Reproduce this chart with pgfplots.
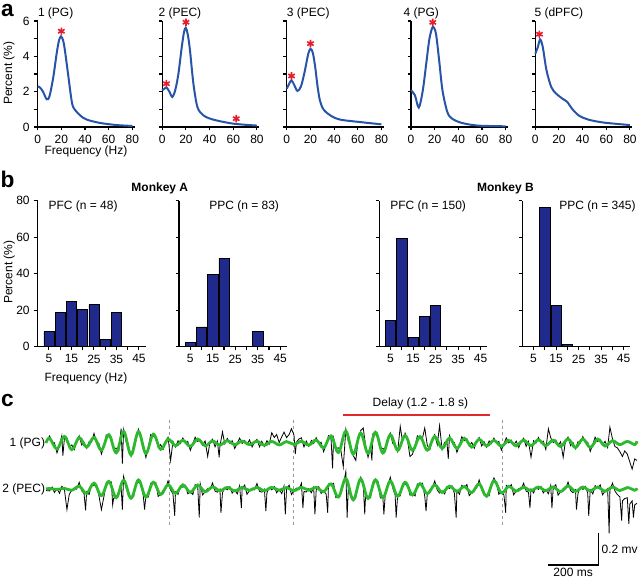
\documentclass[border=0pt]{standalone}
\usepackage{fontspec}
\setmainfont{Liberation Sans}
\usepackage{pgfplots}
\pgfplotsset{compat=1.18}
\usepackage{pgfplotstable}
\definecolor{curveblue}{RGB}{40,84,168}
\definecolor{barblue}{RGB}{32,42,140}
\definecolor{starred}{RGB}{228,30,45}
\definecolor{tracegreen}{RGB}{45,185,45}
\definecolor{delayred}{RGB}{225,40,45}

% panel c: time (ms), voltage (microvolt), each trace relative to its own baseline
\pgfplotstableread[row sep=\\]{t v\\ 0 0\\ 14 30\\ 43 -37\\ 72 42\\ 101 -42\\ 130 34\\ 159 -26\\ 188 35\\ 217 -45\\ 246 53\\ 275 -62\\ 304 73\\ 333 -75\\ 362 72\\ 391 -66\\ 420 56\\ 449 -40\\ 478 24\\ 507 -17\\ 536 17\\ 565 -21\\ 594 25\\ 623 -17\\ 652 12\\ 681 -12\\ 710 14\\ 739 -10\\ 768 12\\ 797 -10\\ 826 11\\ 855 -14\\ 884 10\\ 913 -12\\ 942 9\\ 971 -9\\ 1000 11\\ 1029 -13\\ 1058 19\\ 1087 -30\\ 1116 45\\ 1145 -60\\ 1174 75\\ 1203 -70\\ 1232 63\\ 1261 -65\\ 1290 68\\ 1319 -63\\ 1348 52\\ 1377 -46\\ 1406 47\\ 1435 -46\\ 1464 41\\ 1493 -45\\ 1522 41\\ 1551 -34\\ 1580 32\\ 1609 -34\\ 1638 30\\ 1667 -26\\ 1696 23\\ 1725 -18\\ 1754 16\\ 1783 -20\\ 1812 16\\ 1841 -18\\ 1870 18\\ 1899 -16\\ 1928 20\\ 1957 -16\\ 1986 18\\ 2015 -22\\ 2044 26\\ 2073 -29\\ 2102 26\\ 2131 -28\\ 2160 25\\ 2189 -19\\ 2218 14\\ 2247 -10\\ 2276 10\\ 2305 -10\\ 2314 12\\}\greenA

\pgfplotstableread[row sep=\\]{t v\\ 0 0\\ 14 3\\ 43 -3\\ 72 4\\ 101 -8\\ 130 17\\ 159 -28\\ 188 37\\ 217 -42\\ 246 48\\ 275 -55\\ 304 55\\ 333 -59\\ 362 57\\ 391 -51\\ 420 43\\ 449 -35\\ 478 27\\ 507 -28\\ 536 26\\ 565 -21\\ 594 25\\ 623 -17\\ 652 13\\ 681 -11\\ 710 10\\ 739 -12\\ 768 10\\ 797 -9\\ 826 10\\ 855 -11\\ 884 10\\ 913 -8\\ 942 9\\ 971 -11\\ 1000 11\\ 1029 -8\\ 1058 10\\ 1087 -17\\ 1116 32\\ 1145 -51\\ 1174 66\\ 1203 -69\\ 1232 63\\ 1261 -60\\ 1290 58\\ 1319 -55\\ 1348 50\\ 1377 -46\\ 1406 42\\ 1435 -38\\ 1464 34\\ 1493 -30\\ 1522 26\\ 1551 -22\\ 1580 18\\ 1609 -15\\ 1638 15\\ 1667 -23\\ 1696 32\\ 1725 -46\\ 1754 52\\ 1783 -25\\ 1812 16\\ 1841 -13\\ 1870 11\\ 1899 -10\\ 1928 12\\ 1957 -10\\ 1986 13\\ 2015 -17\\ 2044 19\\ 2073 -15\\ 2102 12\\ 2131 -11\\ 2160 12\\ 2189 -14\\ 2218 12\\ 2247 -10\\ 2276 9\\ 2305 -8\\ 2314 5\\}\greenB

\pgfplotstableread[row sep=\\]{t v\\ 0 0\\ 14 45\\ 24 5\\ 33 2\\ 43 -62\\ 53 -13\\ 62 46\\ 66 -80\\ 72 27\\ 82 31\\ 91 -26\\ 101 -12\\ 111 -41\\ 120 17\\ 130 46\\ 140 -13\\ 149 5\\ 159 -34\\ 169 9\\ 178 5\\ 188 60\\ 198 7\\ 207 -2\\ 217 -70\\ 227 -17\\ 236 51\\ 246 38\\ 256 36\\ 265 -36\\ 275 -32\\ 285 -51\\ 294 90\\ 299 -130\\ 304 85\\ 314 6\\ 323 -19\\ 333 -83\\ 343 -15\\ 352 24\\ 362 87\\ 372 26\\ 381 -13\\ 391 -91\\ 401 -28\\ 410 53\\ 420 41\\ 430 38\\ 439 -25\\ 449 -10\\ 459 -40\\ 468 12\\ 478 36\\ 488 -110\\ 497 10\\ 507 -25\\ 517 14\\ 526 -4\\ 536 32\\ 546 -2\\ 555 10\\ 565 -46\\ 575 -5\\ 584 37\\ 594 10\\ 604 22\\ 613 -13\\ 623 13\\ 633 -85\\ 642 6\\ 652 24\\ 662 -24\\ 671 12\\ 678 -90\\ 681 -20\\ 691 70\\ 700 -5\\ 710 29\\ 720 -3\\ 729 15\\ 739 -35\\ 749 0\\ 758 31\\ 768 -3\\ 778 16\\ 787 -10\\ 797 20\\ 807 -25\\ 816 5\\ 826 23\\ 836 -25\\ 845 11\\ 855 -22\\ 865 15\\ 874 -7\\ 884 65\\ 894 35\\ 903 54\\ 913 3\\ 923 39\\ 932 69\\ 942 34\\ 952 54\\ 961 90\\ 971 51\\ 976 -70\\ 981 6\\ 990 25\\ 1000 33\\ 1010 -25\\ 1019 12\\ 1029 -21\\ 1039 16\\ 1048 -3\\ 1058 34\\ 1068 -1\\ 1077 5\\ 1087 -55\\ 1097 -10\\ 1106 47\\ 1116 30\\ 1122 -160\\ 1126 32\\ 1135 -35\\ 1145 -30\\ 1155 -50\\ 1164 -150\\ 1174 87\\ 1184 7\\ 1193 -17\\ 1203 -78\\ 1213 -110\\ 1222 19\\ 1232 78\\ 1242 95\\ 1251 -12\\ 1261 -90\\ 1271 -27\\ 1276 -110\\ 1280 59\\ 1290 53\\ 1300 44\\ 1309 -36\\ 1319 -33\\ 1329 -51\\ 1338 26\\ 1348 64\\ 1358 -4\\ 1367 -5\\ 1377 -54\\ 1387 105\\ 1396 11\\ 1406 62\\ 1416 13\\ 1425 -85\\ 1435 -71\\ 1445 -18\\ 1454 45\\ 1464 26\\ 1474 30\\ 1483 95\\ 1493 -15\\ 1503 -42\\ 1512 20\\ 1522 53\\ 1532 -10\\ 1541 110\\ 1551 -42\\ 1561 5\\ 1570 4\\ 1575 -100\\ 1580 47\\ 1590 6\\ 1599 3\\ 1609 -59\\ 1619 -12\\ 1628 40\\ 1638 15\\ 1648 25\\ 1657 -18\\ 1667 4\\ 1677 -33\\ 1686 11\\ 1696 35\\ 1706 -19\\ 1715 9\\ 1725 -26\\ 1735 13\\ 1744 -4\\ 1754 31\\ 1764 -2\\ 1773 10\\ 1783 -45\\ 1793 -5\\ 1802 33\\ 1812 1\\ 1822 18\\ 1831 -14\\ 1841 12\\ 1851 -29\\ 1860 9\\ 1870 30\\ 1880 -21\\ 1889 10\\ 1899 -90\\ 1909 14\\ 1918 -2\\ 1928 35\\ 1938 0\\ 1947 12\\ 1957 -41\\ 1967 90\\ 1976 34\\ 1986 3\\ 1996 19\\ 2005 -16\\ 2015 8\\ 2025 -90\\ 2034 13\\ 2044 38\\ 2054 -17\\ 2063 4\\ 2073 -37\\ 2083 8\\ 2092 1\\ 2102 41\\ 2112 3\\ 2121 6\\ 2131 -53\\ 2141 -9\\ 2150 37\\ 2160 10\\ 2170 22\\ 2179 -14\\ 2189 11\\ 2199 -29\\ 2208 100\\ 2218 26\\ 2228 -23\\ 2237 -30\\ 2247 -55\\ 2257 -85\\ 2266 -50\\ 2276 -70\\ 2286 -120\\ 2295 -165\\ 2305 -100\\ 2314 -110\\}\blackA

\pgfplotstableread[row sep=\\]{t v\\ 0 -10\\ 14 -12\\ 24 12\\ 33 -22\\ 43 2\\ 53 -27\\ 62 17\\ 72 -1\\ 82 -130\\ 91 -34\\ 101 -8\\ 111 6\\ 120 -1\\ 130 42\\ 140 -11\\ 149 -29\\ 155 -135\\ 159 -18\\ 169 -34\\ 178 24\\ 188 22\\ 198 29\\ 207 -41\\ 217 -130\\ 227 -46\\ 236 39\\ 246 43\\ 256 44\\ 261 -100\\ 265 -57\\ 275 -55\\ 285 -17\\ 294 17\\ 299 -130\\ 304 80\\ 314 7\\ 323 -44\\ 333 -49\\ 343 -49\\ 352 33\\ 362 42\\ 372 38\\ 381 -45\\ 386 -130\\ 391 -46\\ 401 -50\\ 410 36\\ 420 38\\ 430 41\\ 439 -47\\ 449 -35\\ 459 -7\\ 468 3\\ 478 52\\ 488 -7\\ 497 -29\\ 504 -170\\ 507 -18\\ 517 -34\\ 526 18\\ 536 11\\ 546 23\\ 555 -30\\ 565 -16\\ 575 -35\\ 584 27\\ 594 20\\ 600 -180\\ 604 32\\ 613 -38\\ 623 -17\\ 633 2\\ 642 -4\\ 652 38\\ 662 -14\\ 671 -20\\ 681 -1\\ 685 -150\\ 691 -25\\ 700 10\\ 710 -5\\ 720 15\\ 729 -26\\ 739 -7\\ 749 -31\\ 758 20\\ 765 -120\\ 768 5\\ 778 25\\ 787 -34\\ 797 -9\\ 807 6\\ 816 -5\\ 826 35\\ 836 -15\\ 845 -20\\ 855 -1\\ 861 -140\\ 865 -25\\ 874 10\\ 884 -5\\ 894 15\\ 903 -24\\ 913 -3\\ 923 -29\\ 932 19\\ 937 -160\\ 942 4\\ 952 24\\ 961 -35\\ 971 -11\\ 981 5\\ 990 -5\\ 1000 36\\ 1006 -120\\ 1010 -15\\ 1019 -19\\ 1029 2\\ 1039 -24\\ 1048 10\\ 1053 -160\\ 1058 -5\\ 1068 15\\ 1077 -28\\ 1087 -12\\ 1097 -33\\ 1103 -150\\ 1106 31\\ 1116 27\\ 1126 36\\ 1135 -55\\ 1145 -51\\ 1155 -15\\ 1164 23\\ 1174 110\\ 1179 -180\\ 1184 13\\ 1193 -49\\ 1203 -59\\ 1213 -54\\ 1222 36\\ 1232 75\\ 1242 41\\ 1248 -160\\ 1251 -50\\ 1261 -55\\ 1271 -55\\ 1280 44\\ 1290 53\\ 1300 49\\ 1309 -57\\ 1319 -55\\ 1323 -160\\ 1329 -17\\ 1338 15\\ 1348 75\\ 1358 5\\ 1367 -38\\ 1371 -180\\ 1377 -36\\ 1387 -43\\ 1396 26\\ 1406 27\\ 1416 31\\ 1425 -39\\ 1435 -33\\ 1445 -44\\ 1454 32\\ 1464 29\\ 1474 37\\ 1483 -45\\ 1488 -140\\ 1493 -30\\ 1503 -5\\ 1512 3\\ 1522 51\\ 1532 -7\\ 1541 -26\\ 1551 -12\\ 1561 -31\\ 1570 14\\ 1580 3\\ 1590 19\\ 1599 -28\\ 1606 -180\\ 1609 -10\\ 1619 -33\\ 1628 23\\ 1638 10\\ 1648 28\\ 1657 -42\\ 1667 -23\\ 1677 -2\\ 1686 6\\ 1696 57\\ 1706 -4\\ 1715 -38\\ 1725 -36\\ 1735 -43\\ 1744 31\\ 1754 70\\ 1764 36\\ 1773 -33\\ 1783 -20\\ 1793 -38\\ 1800 -150\\ 1802 23\\ 1812 11\\ 1822 28\\ 1831 -37\\ 1841 -13\\ 1851 3\\ 1860 -4\\ 1870 36\\ 1880 -14\\ 1889 -20\\ 1895 -120\\ 1899 0\\ 1909 -25\\ 1918 11\\ 1928 -3\\ 1938 16\\ 1947 -25\\ 1957 -5\\ 1967 -30\\ 1976 22\\ 1981 -120\\ 1986 8\\ 1996 27\\ 2005 -39\\ 2015 -17\\ 2025 1\\ 2034 0\\ 2044 44\\ 2054 -10\\ 2063 -23\\ 2073 -5\\ 2077 -130\\ 2083 -28\\ 2092 11\\ 2102 -3\\ 2112 16\\ 2121 -26\\ 2125 -170\\ 2131 -6\\ 2141 -31\\ 2150 21\\ 2160 7\\ 2170 26\\ 2179 -37\\ 2189 -14\\ 2199 3\\ 2205 -280\\ 2208 -4\\ 2218 37\\ 2228 -14\\ 2237 -35\\ 2247 -50\\ 2254 -200\\ 2257 -75\\ 2266 -60\\ 2276 -55\\ 2282 -220\\ 2286 -95\\ 2295 -75\\ 2300 -180\\ 2305 -100\\ 2314 -90\\}\blackB

\pgfplotsset{
  base/.style={scale only axis, anchor=south west,
    axis x line*=bottom, axis y line*=left,
    axis line style={line width=0.9pt},
    tick style={black, line width=0.8pt}, tick align=outside,
    major tick length=2.5pt,
    /pgf/number format/assume math mode=true,
    tick label style={font=\fontsize{9}{10}\selectfont},
    clip=false},
  pa/.style={base, width=72.75pt, height=79.5pt, xmin=0, xmax=82, ymin=0, ymax=6,
    xtick={0,20,40,60,80}, ytick={0,1,2,3,4,5,6}, yticklabels={}},
  pb/.style={base, width=81pt, height=109.5pt, xmin=0, xmax=48, ymin=0, ymax=80,
    xtick={5,10,15,20,25,30,35,40,45}, xticklabels={5,,15,,25,,35,,45},
    ytick={0,20,40,60,80}, yticklabels={}},
  spec/.style={curveblue, line width=1.5pt, smooth, tension=0.5},
  ast/.style={only marks, mark=asterisk, mark size=2.8pt, starred, mark options={line width=1.2pt}},
  bars/.style={ybar, bar width=4.5, bar shift=0pt, fill=barblue, draw=black, line width=0.4pt},
}

\begin{document}
\begin{tikzpicture}[font=\fontsize{9}{10.8}\selectfont]
\useasboundingbox (0,0) rectangle (480pt,-434.25pt);

% ---------- panel a ----------
\node[font=\fontsize{17}{17}\bfseries\selectfont, inner sep=0pt] at (5.6pt,-7.6pt) {a};
\node[rotate=90] at (6.75pt,-54.75pt) {Percent (\%)};
\node at (64.5pt,-113.6pt) {Frequency (Hz)};
\node[anchor=west, inner sep=0pt] at (28.3pt,-9.975pt) {1 (PG)};
\node[anchor=west, inner sep=0pt] at (118.7pt,-9.975pt) {2 (PEC)};
\node[anchor=west, inner sep=0pt] at (215pt,-9.975pt) {3 (PEC)};
\node[anchor=west, inner sep=0pt] at (302.5pt,-9.975pt) {4 (PG)};
\node[anchor=west, inner sep=0pt] at (400.7pt,-9.975pt) {5 (dPFC)};

\begin{axis}[pa, at={(28.275pt,-95.25pt)}, yticklabels={0,,2,,4,,6}]
\addplot[spec] coordinates {(0,2.3)(2,2.23)(4.5,2.0)(7.6,1.57)(10,1.75)(13.2,2.83)(16,4.15)(18,4.9)(19.7,5.13)(21.5,4.9)(23,4.34)(26,2.83)(28,1.8)(30,1.13)(35.8,0.66)(41.4,0.42)(52.7,0.23)(66.8,0.11)(80,0.06)};
\addplot[ast] coordinates {(20,5.42)};
\end{axis}

\begin{axis}[pa, at={(121.725pt,-95.25pt)}]
\addplot[spec] coordinates {(0,2.08)(1.8,2.17)(3.7,2.23)(6,2.0)(8.5,1.7)(11,2.1)(13.6,3.0)(16.4,4.5)(18.3,5.35)(19.8,5.62)(21.5,5.25)(23.4,4.34)(26.3,2.45)(29.7,1.13)(34.7,0.66)(43,0.42)(60,0.19)(80,0.08)};
\addplot[ast] coordinates {(3.5,2.45)(20,5.93)(62.5,0.47)};
\end{axis}

\begin{axis}[pa, at={(215.1pt,-95.25pt)}]
\addplot[spec] coordinates {(0,2.17)(2,2.45)(4,2.64)(6.5,2.35)(9,2.04)(12,2.3)(15,3.1)(18,4.1)(20,4.43)(22,4.2)(24,3.4)(26,2.3)(28,1.5)(31,1.0)(36.7,0.66)(45,0.42)(62,0.28)(80,0.15)};
\addplot[ast] coordinates {(4,2.89)(20,4.72)};
\end{axis}

\begin{axis}[pa, at={(308.25pt,-95.25pt)}]
\addplot[spec] coordinates {(0,2.08)(3.3,1.8)(6.6,1.1)(10,2.08)(12.9,3.6)(15.6,5.0)(18.4,5.66)(21.1,5.28)(23.8,3.77)(26.6,2.08)(30.7,0.85)(34.8,0.47)(43,0.23)(56.7,0.08)(80,0.04)};
\addplot[ast] coordinates {(18.4,5.92)};
\end{axis}

\begin{axis}[pa, at={(401.475pt,-95.25pt)}]
\addplot[spec] coordinates {(0,4.15)(2,4.5)(4,4.96)(5.5,4.75)(6.8,4.34)(9.5,3.2)(13.5,2.26)(17.6,1.89)(23,1.6)(27,1.42)(31,1.04)(36.6,0.66)(44.7,0.42)(58,0.25)(80,0.11)};
\addplot[ast] coordinates {(3.5,5.25)};
\end{axis}

% ---------- panel b ----------
\node[font=\fontsize{17}{17}\bfseries\selectfont, inner sep=0pt] at (5.6pt,-134.25pt) {b};
\node[rotate=90] at (6.9pt,-204pt) {Percent (\%)};
\node at (64.5pt,-283.5pt) {Frequency (Hz)};
\node[font=\fontsize{9}{10.8}\bfseries\selectfont] at (119.85pt,-141.2pt) {Monkey A};
\node[font=\fontsize{9}{10.8}\bfseries\selectfont] at (379.1pt,-141pt) {Monkey B};
\node[anchor=west, inner sep=0pt] at (36.2pt,-155pt) {PFC (n = 48)};
\node[anchor=west, inner sep=0pt] at (156.75pt,-155pt) {PPC (n = 83)};
\node[anchor=west, inner sep=0pt] at (292.5pt,-155pt) {PFC (n = 150)};
\node[anchor=west, inner sep=0pt] at (419.25pt,-155pt) {PPC (n = 345)};

\begin{axis}[pb, at={(28.275pt,-260pt)}, yticklabels={0,20,40,60,80}]
\addplot[bars] coordinates {(5,8.2)(10,18.6)(15,25)(20,20.6)(25,23)(30,4)(35,18.6)};
\end{axis}
\begin{axis}[pb, at={(134.25pt,-260pt)}]
\addplot[bars] coordinates {(5,2.4)(10,10.8)(15,39.8)(20,48.2)(35,8.2)};
\end{axis}
\begin{axis}[pb, at={(284.475pt,-260pt)}]
\addplot[bars] coordinates {(5,14.6)(10,59.5)(15,5.1)(20,16.8)(25,22.6)};
\end{axis}
\begin{axis}[pb, at={(391.725pt,-260pt)}]
\addplot[bars] coordinates {(10,76.3)(15,22.6)(20,1.1)};
\end{axis}

% ---------- panel c ----------
\node[font=\fontsize{17}{17}\bfseries\selectfont, inner sep=0pt] at (5.6pt,-300.5pt) {c};
\begin{axis}[scale only axis, anchor=south west, at={(34.5pt,-434.25pt)},
  width=443.25pt, height=138pt, xmin=0, xmax=2314, ymin=-858, ymax=303,
  hide axis, clip=false]
\draw[black!40, line width=1pt, dash pattern=on 2.5pt off 2pt] (axis cs:484,145) -- (axis cs:484,-517);
\draw[black!40, line width=1pt, dash pattern=on 2.5pt off 2pt] (axis cs:968,145) -- (axis cs:968,-517);
\draw[black!40, line width=1pt, dash pattern=on 2.5pt off 2pt] (axis cs:1788,145) -- (axis cs:1788,-517);
\draw[delayred, line width=1.1pt] (axis cs:1164,177) -- (axis cs:1740,177);
\node at (axis cs:1466,247) {Delay (1.2 - 1.8 s)};
\addplot[black, line width=0.6pt] table[x=t, y=v] {\blackA};
\addplot[tracegreen, line width=2.1pt, smooth, tension=0.6] table[x=t, y=v] {\greenA};
\addplot[black, line width=0.6pt] table[x=t, y expr=\thisrow{v}-290] {\blackB};
\addplot[tracegreen, line width=2.1pt, smooth, tension=0.6] table[x=t, y expr=\thisrow{v}-290] {\greenB};
\node[anchor=east, inner sep=0.5pt] at (axis cs:0,0) {1 (PG)};
\node[anchor=east, inner sep=0.5pt] at (axis cs:0,-290) {2 (PEC)};
\draw[black, line width=1pt] (axis cs:1964,-770) -- (axis cs:2164,-770) -- (axis cs:2164,-570);
\node[anchor=west, inner sep=2pt] at (axis cs:2164,-670) {0.2 mv};
\node[anchor=north, inner sep=2pt] at (axis cs:2064,-770) {200 ms};
\end{axis}
\end{tikzpicture}
\end{document}
